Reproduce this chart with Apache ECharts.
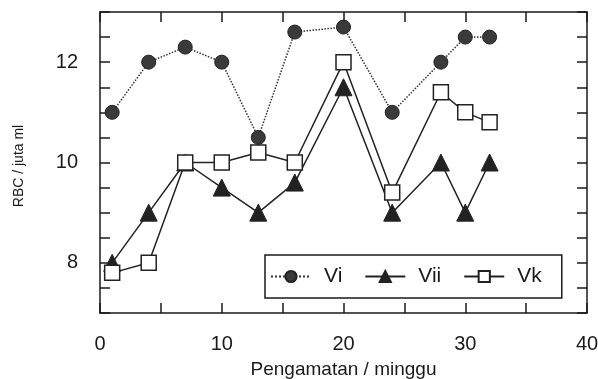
<!DOCTYPE html>
<html>
<head>
<meta charset="utf-8">
<script src="https://cdn.jsdelivr.net/npm/echarts@6/dist/echarts.min.js"></script>
<style>html,body{margin:0;padding:0;background:#fff;}#c{width:598px;height:379px;}</style>
</head>
<body>
<div id="c"></div>
<script>
var weeks = [1, 4, 7, 10, 13, 16, 20, 24, 28, 30, 32];
var vi  = [11.0, 12.0, 12.3, 12.0, 10.5, 12.6, 12.7, 11.0, 12.0, 12.5, 12.5];
var vii = [8.0, 9.0, 10.0, 9.5, 9.0, 9.6, 11.5, 9.0, 10.0, 9.0, 10.0];
var vk  = [7.8, 8.0, 10.0, 10.0, 10.2, 10.0, 12.0, 9.4, 11.4, 11.0, 10.8];
var xTickLabels = [0, 10, 20, 30, 40];
var yTickLabels = [8, 10, 12];

function pairs(ys) { return weeks.map(function (w, i) { return [w, ys[i]]; }); }

var FONT = 'Liberation Sans';
var ink = '#1a1a1a';
function axisBase(extra) {
  var a = {
    type: 'value',
    axisLine: {show: true, onZero: false, lineStyle: {color: ink, width: 1.5}},
    axisTick: {show: true, inside: true, length: 10, lineStyle: {color: ink, width: 1.5}},
    splitLine: {show: false}
  };
  for (var k in extra) a[k] = extra[k];
  return a;
}
var chart = echarts.init(document.getElementById('c'), null, {renderer: 'canvas'});
chart.setOption({
  animation: false,
  backgroundColor: '#fff',
  textStyle: {fontFamily: FONT},
  grid: {left: 100, right: 11, top: 12, bottom: 66, containLabel: false, outerBoundsMode: 'none'},
  xAxis: [axisBase({
    min: 0, max: 40, interval: 5, position: 'bottom',
    name: 'Pengamatan / minggu', nameLocation: 'middle', nameGap: 47,
    nameTextStyle: {fontFamily: FONT, fontSize: 19, color: ink},
    axisLabel: {fontFamily: FONT, fontSize: 20, color: ink, margin: 21,
      formatter: function (v) { return xTickLabels.indexOf(v) >= 0 ? String(v) : ''; }}
  }), axisBase({
    min: 0, max: 40, interval: 5, position: 'top',
    axisLabel: {show: false}
  })],
  yAxis: [axisBase({
    min: 7, max: 13, interval: 0.5, position: 'left',
    name: 'RBC / juta ml', nameLocation: 'middle', nameGap: 74, nameRotate: 90,
    nameTextStyle: {fontFamily: FONT, fontSize: 14, color: ink, padding: [0, 7, 0, 0]},
    axisLabel: {fontFamily: FONT, fontSize: 20, color: ink, margin: 22,
      formatter: function (v) { return yTickLabels.indexOf(v) >= 0 ? String(v) : ''; }}
  }), axisBase({
    min: 7, max: 13, interval: 0.5, position: 'right',
    axisLabel: {show: false}
  })],
  legend: {
    left: 265, top: 255,
    orient: 'horizontal',
    borderColor: ink, borderWidth: 1.5, borderRadius: 0,
    padding: [11, 20, 11, 5],
    itemWidth: 40, itemHeight: 14, itemGap: 22,
    textStyle: {fontFamily: FONT, fontSize: 21, color: ink, padding: [0, 0, 0, 8]},
    data: ['Vi', 'Vii', 'Vk']
  },
  series: [{
    name: 'Vi', type: 'line', data: pairs(vi),
    symbol: 'circle', symbolSize: 14,
    lineStyle: {color: '#333', width: 1.5, type: 'dotted'},
    itemStyle: {color: '#3a3a3a', borderColor: '#222', borderWidth: 1}
  }, {
    name: 'Vii', type: 'line', data: pairs(vii),
    symbol: 'triangle', symbolSize: 17,
    lineStyle: {color: '#222', width: 1.5},
    itemStyle: {color: '#222', borderColor: '#222', borderWidth: 1}
  }, {
    name: 'Vk', type: 'line', data: pairs(vk),
    symbol: 'rect', symbolSize: 15,
    lineStyle: {color: '#222', width: 1.5},
    itemStyle: {color: '#fff', borderColor: '#222', borderWidth: 1.5}
  }]
});
</script>
</body>
</html>
